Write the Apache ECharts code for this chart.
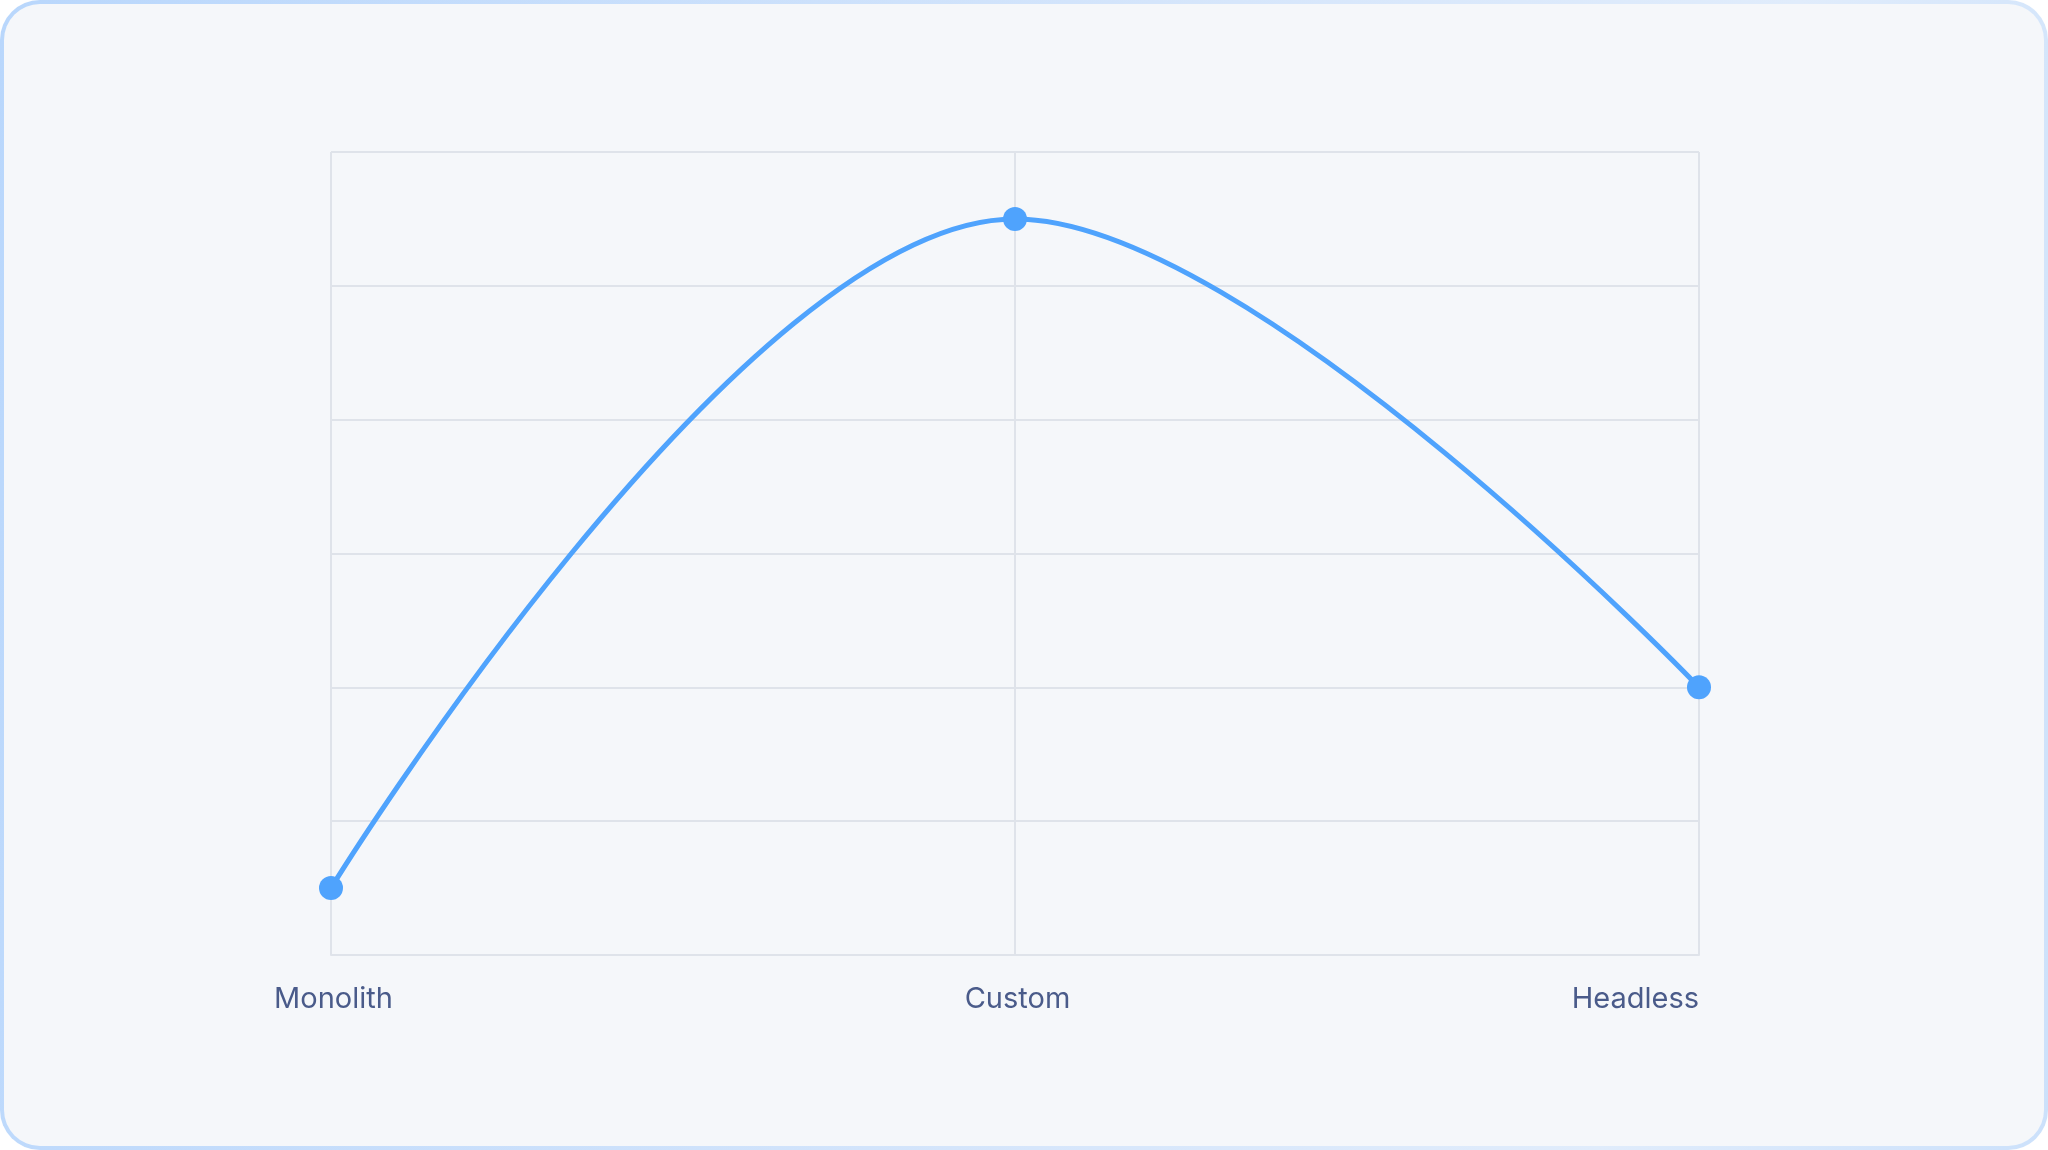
<!DOCTYPE html>
<html>
<head>
<meta charset="utf-8">
<script src="https://cdn.jsdelivr.net/npm/echarts@6/dist/echarts.min.js"></script>
<style>
  html, body { margin: 0; padding: 0; background: #ffffff; }
  #card {
    position: absolute; left: 0; top: 0; width: 2048px; height: 1150px;
    box-sizing: border-box;
    border: 4px solid transparent;
    border-radius: 40px;
    background:
      linear-gradient(#f5f7fa, #f5f7fa) padding-box,
      linear-gradient(100deg, #b9d7fc 0%, #d6e6fb 55%, #e0ecfb 80%, #cce1fb 100%) border-box;
  }
  #chart { position: absolute; left: 0; top: 0; width: 2048px; height: 1150px; }
</style>
</head>
<body>
<div id="card"></div>
<div id="chart"></div>
<script>
const categories = ['Monolith', 'Custom', 'Headless'];
const values = [0.5, 5.5, 2.0];
const yMin = 0, yMax = 6, yInterval = 1;

const gridColor = '#dfe3ea';
const chart = echarts.init(document.getElementById('chart'), null, { renderer: 'canvas' });
chart.setOption({
  backgroundColor: 'transparent',
  animation: false,
  grid: { left: 331, right: 349, top: 152, bottom: 195, containLabel: false },
  xAxis: {
    type: 'category',
    data: categories,
    boundaryGap: false,
    axisLine: { show: true, lineStyle: { color: gridColor, width: 2 } },
    axisTick: { show: false },
    splitLine: { show: true, lineStyle: { color: gridColor, width: 2 } },
    axisLabel: {
      color: '#4a5b8a', fontSize: 29, fontFamily: 'Inter', margin: 30,
      padding: [0, 0, 0, 5],
      showMinLabel: true, showMaxLabel: true, interval: 0,
      alignMaxLabel: 'right'
    }
  },
  yAxis: {
    type: 'value',
    min: yMin, max: yMax, interval: yInterval,
    axisLine: { show: false },
    axisTick: { show: false },
    axisLabel: { show: false },
    splitLine: { show: true, lineStyle: { color: gridColor, width: 2 } }
  },
  series: [{
    type: 'line',
    data: values,
    smooth: 0.37,
    symbol: 'circle',
    symbolSize: 24,
    lineStyle: { color: '#4fa3fd', width: 5 },
    itemStyle: { color: '#4fa3fd' }
  }]
});
</script>
</body>
</html>
